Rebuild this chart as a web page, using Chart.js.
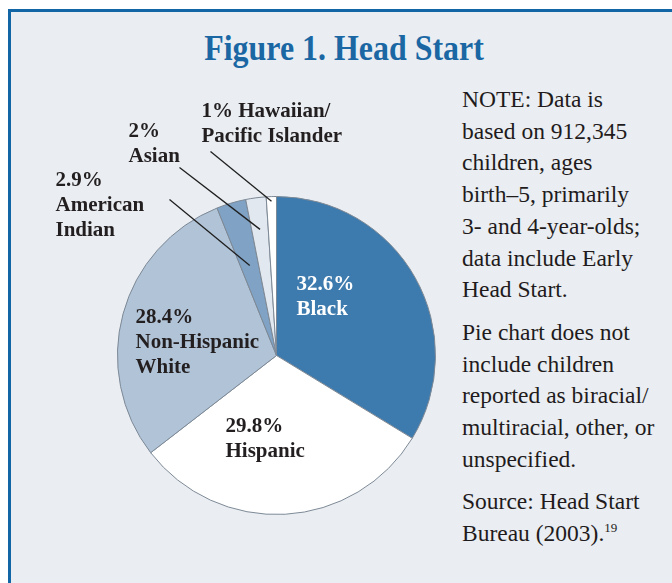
<!DOCTYPE html>
<html>
<head>
<meta charset="utf-8">
<script src="https://cdn.jsdelivr.net/npm/chart.js@4"></script>
<style>
  html, body { margin: 0; padding: 0; background: #ffffff; }
  body { width: 672px; height: 583px; position: relative; overflow: hidden; }
  #frame { position: absolute; left: 8px; top: 9px; width: 700px; height: 600px;
           background: #eaeef2; border-left: 3px solid #1266a6; border-top: 3px solid #1266a6; }
  #title { position: absolute; left: 344px; top: 29px; font-family: "Liberation Serif", "Times New Roman", serif;
           font-weight: bold; font-size: 35px; line-height: 40px; color: #1a67a4; white-space: nowrap;
           transform: translateX(-50%) scaleX(0.912); }
  #note { position: absolute; left: 462px; top: 84px; width: 215px; font-family: "Liberation Serif", "Times New Roman", serif;
          font-weight: normal; font-size: 23.5px; line-height: 31.7px; color: #1f1b1c; white-space: nowrap; }
  #note p { margin: 0; }
  #note p + p { margin-top: 11px; }
  #note sup { font-size: 13px; vertical-align: 9px; line-height: 0; }
  #wrap { position: absolute; left: 0; top: 0; width: 672px; height: 583px; }
</style>
</head>
<body>
<div id="frame"></div>
<div id="title">Figure 1. Head Start</div>
<div id="note">
  <p>NOTE: Data is<br>based on 912,345<br>children, ages<br>birth–5, primarily<br>3- and 4-year-olds;<br>data include Early<br>Head Start.</p>
  <p>Pie chart does not<br>include children<br>reported as biracial/<br>multiracial, other, or<br>unspecified.</p>
  <p>Source: Head Start<br>Bureau (2003).<sup>19</sup></p>
</div>
<div id="wrap"><canvas id="c"></canvas></div>
<script>
// ---- data ----
const categories = ['Black', 'Hispanic', 'Non-Hispanic White', 'American Indian', 'Asian', 'Hawaiian/Pacific Islander'];
const values = [32.6, 29.8, 28.4, 2.9, 2, 1];
const labelNames = [['Black'], ['Hispanic'], ['Non-Hispanic', 'White'], ['American', 'Indian'], ['Asian'], ['Hawaiian/', 'Pacific Islander']];

// ---- styles ----
const sliceColors = ['#3d7aad', '#ffffff', '#b1c3d7', '#7fa2c5', '#e2e8ef', '#ffffff'];
const labelColors = ['#ffffff', '#231f20', '#231f20', '#231f20', '#231f20', '#231f20'];
// label anchor offsets from pie centre (px), percent inline with first name line?
const labelLayout = [
  { dx: 20, dy: -66, inline: false },
  { dx: -51, dy: 76, inline: false },
  { dx: -141, dy: -33, inline: false },
  { dx: -221, dy: -170, inline: false, leader: { fx: 114, fy: 14, r: 0.59 } },
  { dx: -148, dy: -219, inline: false, leader: { fx: 51, fy: 31, r: 0.80 } },
  { dx: -75, dy: -239, inline: true, leader: { fx: 9, fy: 35, r: 0.97 } }
];

const labelPlugin = {
  id: 'sliceLabels',
  afterDatasetsDraw(chart) {
    const ctx = chart.ctx;
    const meta = chart.getDatasetMeta(0);
    ctx.save();
    ctx.font = 'bold 21px "Liberation Serif", "Times New Roman", serif';
    ctx.textAlign = 'left';
    ctx.textBaseline = 'alphabetic';
    meta.data.forEach((arc, i) => {
      const p = arc.getProps(['x', 'y', 'startAngle', 'endAngle', 'outerRadius'], true);
      const L = labelLayout[i];
      const ax = p.x + L.dx, ay = p.y + L.dy;
      const pct = values[i] + '%';
      let lines;
      if (L.inline) lines = [pct + ' ' + labelNames[i][0]].concat(labelNames[i].slice(1));
      else lines = [pct].concat(labelNames[i]);
      ctx.fillStyle = labelColors[i];
      lines.forEach((t, k) => ctx.fillText(t, ax, ay + k * 25));
      if (L.leader) {
        const mid = (p.startAngle + p.endAngle) / 2;
        const ex = p.x + Math.cos(mid) * p.outerRadius * L.leader.r;
        const ey = p.y + Math.sin(mid) * p.outerRadius * L.leader.r;
        ctx.beginPath();
        ctx.moveTo(ax + L.leader.fx, ay + L.leader.fy);
        ctx.lineTo(ex, ey);
        ctx.strokeStyle = '#1f1f1f';
        ctx.lineWidth = 1.3;
        ctx.stroke();
      }
    });
    ctx.restore();
  }
};

new Chart(document.getElementById('c'), {
  type: 'pie',
  data: {
    labels: categories,
    datasets: [{
      data: values,
      backgroundColor: sliceColors,
      borderColor: '#7c8895',
      borderWidth: 1,
      hoverOffset: 0,
      offset: 0
    }]
  },
  options: {
    responsive: true,
    maintainAspectRatio: false,
    animation: false,
    layout: { padding: { left: 117, right: 236, top: 196, bottom: 68 } },
    plugins: { legend: { display: false }, tooltip: { enabled: false }, title: { display: false } }
  },
  plugins: [labelPlugin]
});
</script>
</body>
</html>
